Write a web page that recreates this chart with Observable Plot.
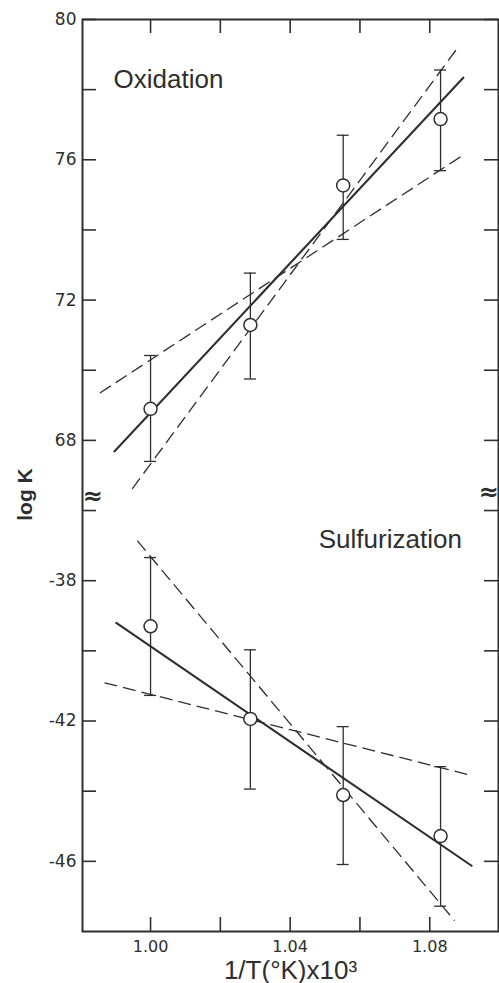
<!DOCTYPE html>
<html><head><meta charset="utf-8">
<script src="https://cdn.jsdelivr.net/npm/d3@7"></script>
<script src="https://cdn.jsdelivr.net/npm/@observablehq/plot@0.6"></script>
<style>body{margin:0;background:#fff} svg{display:block}</style>
</head><body><div id="chart"></div>
<script>
// ---- data ----
const invT = [1.000, 1.0286, 1.0552, 1.0831];
const oxLogK = [68.9, 71.29, 75.27, 77.16];
const oxLow = [67.40, 69.75, 73.73, 75.69];
const oxHigh = [70.42, 72.77, 76.70, 78.56];
const sulLogK = [-39.30, -41.94, -44.11, -45.28];
const sulLow = [-41.27, -43.94, -46.09, -47.28];
const sulHigh = [-37.34, -39.97, -42.16, -43.30];

const fitNames = ["Oxidation best fit", "Oxidation steep limit", "Oxidation shallow limit",
                  "Sulfurization best fit", "Sulfurization steep limit", "Sulfurization shallow limit"];
const fitKinds = ["best", "limit", "limit", "best", "limit", "limit"];
const fitX1 = [0.9895, 0.99475, 0.98548, 0.98997, 0.99619, 0.98682];
const fitY1 = [67.67, 66.62, 69.35, -39.19, -36.86, -40.91];
const fitX2 = [1.0898, 1.0876, 1.0898, 1.0922, 1.0871, 1.0907];
const fitY2 = [78.36, 79.14, 76.15, -46.14, -47.69, -43.52];

const panelNames = ["Oxidation", "Sulfurization"];
const panelLabelX = [0.9894, 1.0482];
const panelLabelY = [78.06, -37.07];

const xDomain = [0.9805, 1.0997];
const yDomain = [-48, -35.6, 66.4, 80]; // broken axis: lower panel | upper panel
const xTicks = [1.00, 1.02, 1.04, 1.06, 1.08];
const xTickLabels = [1.00, 1.04, 1.08];
const yTicks = [80, 78, 76, 74, 72, 70, 68, -36, -38, -40, -42, -44, -46];
const yTickLabels = [80, 76, 72, 68, -38, -42, -46];
const xLabel = "1/T(°K)x10³";
const yLabel = "log K";

// ---- tables ----
const points = invT.flatMap((x, i) => [
  {panel: "Oxidation", x, y: oxLogK[i], lo: oxLow[i], hi: oxHigh[i]},
  {panel: "Sulfurization", x, y: sulLogK[i], lo: sulLow[i], hi: sulHigh[i]}
]);
const fits = fitNames.map((name, i) => ({name, kind: fitKinds[i], x1: fitX1[i], y1: fitY1[i], x2: fitX2[i], y2: fitY2[i]}));
const panels = panelNames.map((name, i) => ({name, x: panelLabelX[i], y: panelLabelY[i]}));

// ---- layout ----
const W = 499, H = 983;
const mL = 82, mR = 1, mT = 19, mB = 52;
const plotW = W - mL - mR, plotH = H - mT - mB;
const breakPx = 496;
const tickLen = 14;
const ink = "#2e2e2e";
const sans = "Liberation Sans, Arial, sans-serif";
const tickFont = "DejaVu Sans, sans-serif";

const chart = Plot.plot({
  width: W, height: H,
  marginLeft: mL, marginRight: mR, marginTop: mT, marginBottom: mB,
  style: {background: "#fff", color: ink},
  x: {domain: xDomain},
  y: {type: "linear", domain: yDomain, range: [H - mB, breakPx, breakPx, mT]},
  marks: [
    // inward ticks
    Plot.ruleY(yTicks, {y: d => d, insetRight: plotW - tickLen, stroke: ink, strokeWidth: 1.6}),
    Plot.ruleY(yTicks, {y: d => d, insetLeft: plotW - tickLen, stroke: ink, strokeWidth: 1.6}),
    Plot.ruleX(xTicks, {x: d => d, insetTop: plotH - tickLen, stroke: ink, strokeWidth: 1.6}),
    Plot.ruleX(xTicks, {x: d => d, insetBottom: plotH - tickLen, stroke: ink, strokeWidth: 1.6}),
    Plot.axisX({ticks: xTickLabels, tickSize: 0, tickPadding: 9, tickFormat: d3.format(".2f"),
                fontSize: 16, fontFamily: tickFont, label: null, fill: ink}),
    Plot.axisY({ticks: yTickLabels, tickSize: 0, tickPadding: 6, tickFormat: d => String(d),
                fontSize: 17, fontFamily: tickFont, label: null, fill: ink}),
    // fitted lines
    Plot.link(fits.filter(d => d.kind === "limit"), {x1: "x1", y1: "y1", x2: "x2", y2: "y2",
      stroke: ink, strokeWidth: 1.3, strokeDasharray: "13,6"}),
    Plot.link(fits.filter(d => d.kind === "best"), {x1: "x1", y1: "y1", x2: "x2", y2: "y2",
      stroke: ink, strokeWidth: 2.1}),
    // error bars
    Plot.ruleX(points, {x: "x", y1: "lo", y2: "hi", stroke: ink, strokeWidth: 1.3}),
    Plot.ruleY(points, {y: "hi", x1: "x", x2: "x", insetLeft: -6, insetRight: -6, stroke: ink, strokeWidth: 1.3}),
    Plot.ruleY(points, {y: "lo", x1: "x", x2: "x", insetLeft: -6, insetRight: -6, stroke: ink, strokeWidth: 1.3}),
    Plot.dot(points, {x: "x", y: "y", r: 6.5, fill: "white", stroke: ink, strokeWidth: 1.5}),
    // panel labels
    Plot.text(panels, {x: "x", y: "y", text: "name", textAnchor: "start", lineAnchor: "bottom",
      fontSize: 26, fontFamily: sans, fill: ink}),
    // axis breaks
    Plot.text([yDomain[2]], {y: d => d, frameAnchor: "left", text: () => "≈", fontSize: 24, fontWeight: "bold", fill: ink, fontFamily: tickFont}),
    Plot.text([yDomain[2]], {y: d => d, frameAnchor: "right", text: () => "≈", fontSize: 24, fontWeight: "bold", fill: ink, fontFamily: tickFont, dy: -4}),
    Plot.frame({stroke: ink, strokeWidth: 2}),
    // axis titles
    Plot.text([yLabel], {text: d => d, frameAnchor: "left", dx: -51, dy: 19, rotate: -90,
      lineAnchor: "bottom", textAnchor: "middle", fontSize: 21, fontWeight: "bold", fontFamily: sans, fill: ink}),
    Plot.text([xLabel], {text: d => d, frameAnchor: "bottom", dy: 47, lineAnchor: "bottom",
      fontSize: 26, fontFamily: sans, fill: ink})
  ]
});
document.getElementById("chart").append(chart);
</script>
</body></html>
